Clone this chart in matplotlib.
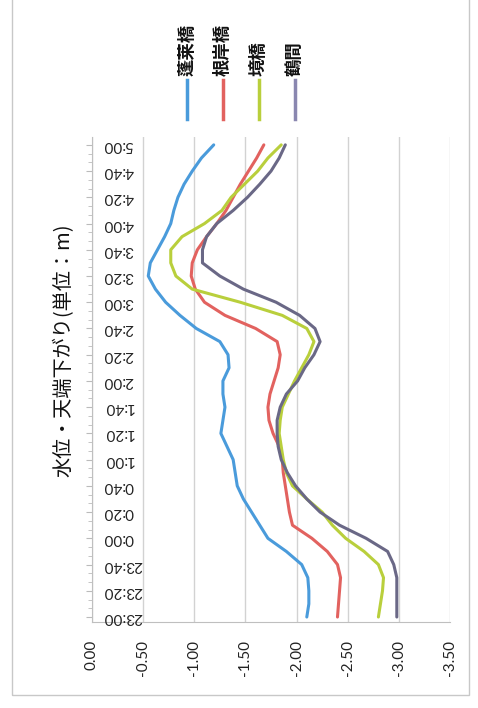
import matplotlib.pyplot as plt
from matplotlib.lines import Line2D
from matplotlib.patches import Rectangle
from matplotlib.ticker import MultipleLocator

plt.rcParams['font.family'] = ['Lato', 'Noto Sans CJK JP', 'DejaVu Sans']

# minutes after 23:00, one reading every 10 minutes up to 5:00
minutes = list(range(0, 361, 10))

horai = [-2.10, -2.12, -2.12, -2.11, -2.05, -1.90, -1.72, -1.64, -1.56, -1.48,
         -1.42, -1.40, -1.38, -1.32, -1.26, -1.28, -1.30, -1.28, -1.28, -1.34,
         -1.33, -1.25, -1.02, -0.86, -0.72, -0.62, -0.55, -0.57, -0.64, -0.71,
         -0.77, -0.80, -0.84, -0.90, -0.98, -1.07, -1.19]
negishi = [-2.40, -2.41, -2.42, -2.43, -2.40, -2.30, -2.15, -1.96, -1.93, -1.91,
           -1.89, -1.87, -1.86, -1.83, -1.77, -1.73, -1.72, -1.74, -1.78, -1.82,
           -1.84, -1.81, -1.60, -1.30, -1.10, -1.01, -0.97, -0.98, -1.03, -1.12,
           -1.22, -1.31, -1.38, -1.45, -1.53, -1.61, -1.68]
sakai = [-2.80, -2.82, -2.84, -2.85, -2.80, -2.66, -2.48, -2.35, -2.25, -2.10,
         -1.96, -1.90, -1.87, -1.85, -1.83, -1.84, -1.86, -1.92, -1.98, -2.05,
         -2.12, -2.17, -2.10, -1.86, -1.45, -0.98, -0.82, -0.77, -0.77, -0.88,
         -1.10, -1.27, -1.36, -1.49, -1.62, -1.72, -1.85]
tsuruma = [-2.98, -2.98, -2.98, -2.98, -2.95, -2.89, -2.68, -2.42, -2.23, -2.10,
           -1.99, -1.91, -1.85, -1.82, -1.81, -1.81, -1.84, -1.90, -2.01, -2.08,
           -2.17, -2.23, -2.18, -2.03, -1.80, -1.48, -1.25, -1.08, -1.08, -1.12,
           -1.22, -1.38, -1.52, -1.64, -1.75, -1.83, -1.89]

names = ['蓬莱橋', '根岸橋', '境橋', '鶴間']
colors = ['#4a9bdb', '#e2625f', '#b9cf3c', '#6a6886']
legend_colors = ['#4a9bdb', '#e2625f', '#b9cf3c', '#8a87b0']

time_labels = ['23:00', '23:20', '23:40', '0:00', '0:20', '0:40', '1:00', '1:20',
               '1:40', '2:00', '2:20', '2:40', '3:00', '3:20', '3:40', '4:00',
               '4:20', '4:40', '5:00']
value_ticks = [0.0, -0.5, -1.0, -1.5, -2.0, -2.5, -3.0, -3.5]

W, H = 478, 708
fig = plt.figure(figsize=(W / 100, H / 100), dpi=100)
ax = fig.add_axes([92 / W, 1 - 622 / H, 358 / W, 485 / H])

series = [horai, negishi, sakai, tsuruma]
for vals, c in zip(series, colors):
    ax.plot(vals, minutes, color=c, lw=2.2, solid_capstyle='round')

ax.set_xlim(0, -3.5)
ax.set_ylim(-3.8, 366)

ax.set_xticks(value_ticks)
ax.set_xticklabels(['%.2f' % v if v == 0 else '-%.2f' % abs(v) for v in value_ticks],
                   rotation=90, fontsize=11, color='#222222')
ax.tick_params(axis='x', length=0, pad=13)
ax.grid(axis='x', color='#d2d2d2', lw=1)

ax.yaxis.set_major_locator(MultipleLocator(20))
ax.yaxis.set_minor_locator(MultipleLocator(20 / 3))
ax.set_yticklabels([])
ax.tick_params(axis='y', which='both', direction='out', length=3, color='#bbbbbb')
ax.tick_params(axis='y', which='major', length=4)

# time labels sit inside the plot, turned upside down
for i, lab in enumerate(time_labels):
    ax.text(0.031, i * 20, lab, transform=ax.get_yaxis_transform(), rotation=180,
            ha='left', va='center', fontsize=11, color='#222222')

for side in ['top', 'right']:
    ax.spines[side].set_visible(False)
for side in ['left', 'bottom']:
    ax.spines[side].set_color('#bfbfbf')

fig.text(64 / W, 1 - 350 / H, '水位・天端下がり(単位：m)', rotation=90,
         ha='center', va='center', fontsize=14.5, color='#111111',
         family=['Noto Sans CJK JP', 'DejaVu Sans'])

# legend drawn by hand so the entries stand on end
for i, (name, c) in enumerate(zip(names, legend_colors)):
    x = (187 + 36 * i) / W
    fig.text(x, 1 - 76 / H, name, rotation=90, ha='center', va='bottom',
             fontsize=12.5, fontweight='bold', color='#111111',
             family=['Noto Sans CJK JP', 'DejaVu Sans'])
    fig.add_artist(Line2D([x, x], [1 - 80 / H, 1 - 119 / H], color=c, lw=2.5,
                          transform=fig.transFigure))

fig.add_artist(Rectangle((12 / W, 1 - 695 / H), 457 / W, 0.1 + 695 / H,
                         transform=fig.transFigure, fill=False,
                         edgecolor='#c8c8c8', lw=1))

fig.savefig('out.png', dpi=100)
